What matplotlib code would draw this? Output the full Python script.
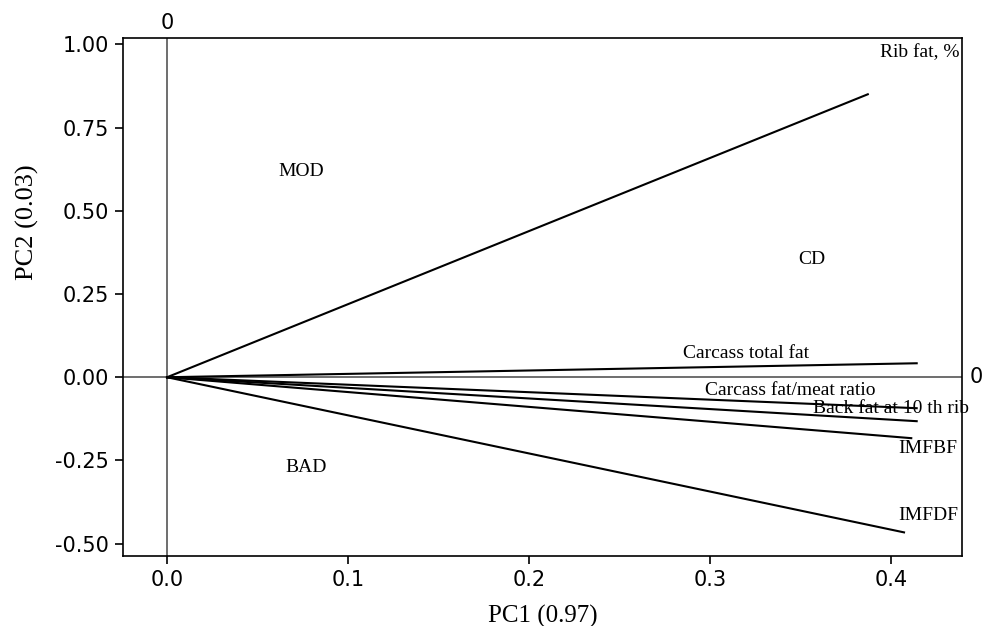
import matplotlib
matplotlib.use("Agg")
import matplotlib.pyplot as plt

# loading vectors (PC1, PC2)
variables = ["Rib fat, %", "Carcass total fat", "Carcass fat/meat ratio",
             "Back fat at 10 th rib", "IMFBF", "IMFDF"]
pc1 = [0.387, 0.414, 0.414, 0.414, 0.411, 0.407]
pc2 = [0.850, 0.042, -0.093, -0.132, -0.183, -0.466]

# where the variable names are written
label_x = [0.394, 0.285, 0.297, 0.357, 0.404, 0.404]
label_y = [0.976, 0.072, -0.039, -0.093, -0.213, -0.414]

# group labels
groups = ["MOD", "CD", "BAD"]
group_x = [0.074, 0.356, 0.077]
group_y = [0.619, 0.354, -0.270]

serif = "Liberation Serif"

fig = plt.figure(figsize=(9.82, 6.26), dpi=100)
ax = fig.add_axes([0.1253, 0.1118, 0.8543, 0.828])

ax.axvline(0, color="#555555", lw=1.2, zorder=1)
ax.axhline(0, color="#555555", lw=1.2, zorder=1)

for i in range(len(variables)):
    ax.plot([0, pc1[i]], [0, pc2[i]], color="black", lw=1.5, zorder=2)
    ax.text(label_x[i], label_y[i], variables[i], fontsize=14, family=serif,
            ha="left", va="center", zorder=3)

for i in range(len(groups)):
    ax.text(group_x[i], group_y[i], groups[i], fontsize=14, family=serif,
            ha="center", va="center")

ax.set_xlim(-0.0243, 0.439)
ax.set_ylim(-0.537, 1.02)
ax.set_xticks([0.0, 0.1, 0.2, 0.3, 0.4])
ax.set_xticklabels(["0.0", "0.1", "0.2", "0.3", "0.4"])
ax.set_yticks([1.0, 0.75, 0.5, 0.25, 0.0, -0.25, -0.5])
ax.set_yticklabels(["1.00", "0.75", "0.50", "0.25", "0.00", "-0.25", "-0.50"])
ax.tick_params(labelsize=15, length=6, width=1.2, direction="out", pad=4)
for s in ax.spines.values():
    s.set_linewidth(1.2)

ax.set_xlabel("PC1 (0.97)", fontsize=18, family=serif)
ax.set_ylabel("PC2 (0.03)", fontsize=19, family=serif)
ax.xaxis.set_label_coords(0.5, -0.094)
ax.yaxis.set_label_coords(-0.100, 0.644)

# zero markers on the top and right edges
ax.text(0, 1.02 + 0.045, "0", fontsize=15, ha="center", va="center",
        clip_on=False)
ax.text(0.439 + 0.0045, 0, "0", fontsize=15, ha="left", va="center",
        clip_on=False)

plt.savefig("out.png", dpi=100)
